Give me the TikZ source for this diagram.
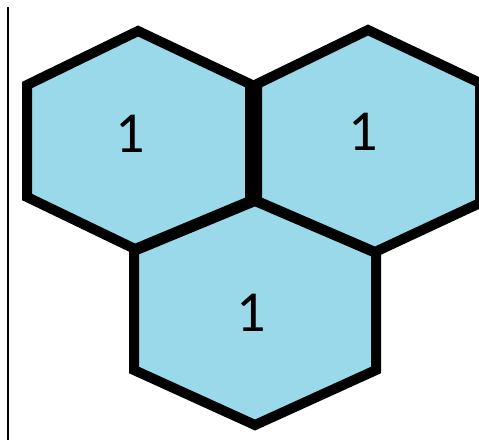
\documentclass[tikz,border=0pt]{standalone}
\usepackage{fontspec}
\setmainfont{Carlito}
\definecolor{cellblue}{RGB}{153,217,234}

\begin{document}
\begin{tikzpicture}[
    x=1pt, y=-1pt,
    cellfill/.style={fill=cellblue},
    cellline/.style={draw=black, line width=10pt, miter limit=10},
    num/.style={font=\fontsize{58}{66}\selectfont, text=black, inner sep=0pt}
]
    \useasboundingbox (0,0) rectangle (479,440);

    % Left rule
    \coordinate (ruletop) at (8,7);
    \coordinate (rulebot) at (8,440);
    \draw[line width=1.5pt] (ruletop) -- (rulebot);

    % Left cell
    \coordinate (l1) at (138,31);
    \coordinate (l2) at (27,85);
    \coordinate (l3) at (27,197);
    \coordinate (l4) at (135,249);
    \coordinate (l5) at (250,201);
    \coordinate (l6) at (250,84);

    % Right cell
    \coordinate (r1) at (368,30);
    \coordinate (r2) at (257,84);
    \coordinate (r3) at (257,201);
    \coordinate (r4) at (375,252);
    \coordinate (r5) at (480,203);
    \coordinate (r6) at (480,83);

    % Bottom cell
    \coordinate (b1) at (255,201);
    \coordinate (b2) at (134,251);
    \coordinate (b3) at (134,370);
    \coordinate (b4) at (255,425);
    \coordinate (b5) at (376,370);
    \coordinate (b6) at (376,253);

    % Fills
    \fill[cellfill] (l1) -- (l2) -- (l3) -- (l4) -- (l5) -- (l6) -- cycle;
    \fill[cellfill] (r1) -- (r2) -- (r3) -- (r4) -- (r5) -- (r6) -- cycle;
    \fill[cellfill] (b1) -- (b2) -- (b3) -- (b4) -- (b5) -- (b6) -- cycle;

    % Borders
    \draw[cellline] (l1) -- (l2) -- (l3) -- (l4) -- (l5) -- (l6) -- cycle;
    \draw[cellline] (r1) -- (r2) -- (r3) -- (r4) -- (r5) -- (r6) -- cycle;
    \draw[cellline] (b1) -- (b2) -- (b3) -- (b4) -- (b5) -- (b6) -- cycle;

    % Labels
    \node[num] (leftnum) at (130,134) {1};
    \node[num] (rightnum) at (363,132) {1};
    \node[num] (bottomnum) at (251,313) {1};
\end{tikzpicture}
\end{document}
